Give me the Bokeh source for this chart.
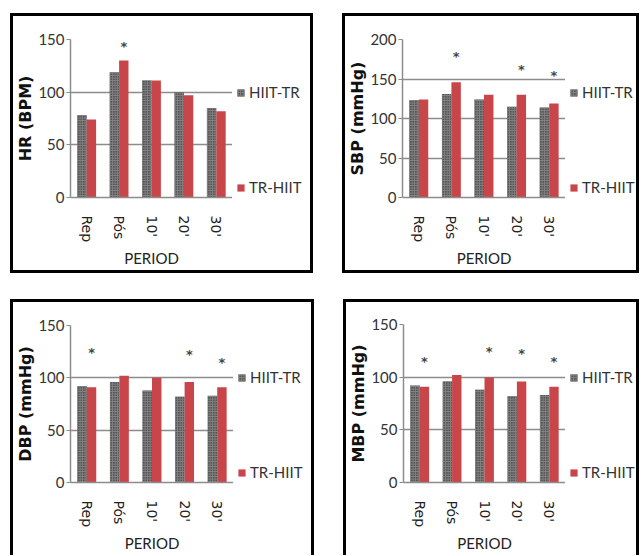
from bokeh.plotting import figure
from bokeh.models import (ColumnDataSource, FactorRange, Range1d, FixedTicker,
                          Legend, LegendItem, Spacer)
from bokeh.layouts import row, column
from bokeh.transform import dodge
from bokeh.core.properties import value
from bokeh.embed import file_html
from bokeh.resources import INLINE

# ---------------- data ----------------
periods = ["Rep", "Pós", "10'", "20'", "30'"]
series_names = ["HIIT-TR", "TR-HIIT"]

hr_hiit_tr = [78, 119, 111, 100, 85]
hr_tr_hiit = [74, 130, 111, 97, 82]
hr_star_periods = ["Pós"]
hr_star_y = [143]
hr_ticks = [0, 50, 100, 150]

sbp_hiit_tr = [123, 131, 124, 115, 114]
sbp_tr_hiit = [124, 146, 130, 130, 119]
sbp_star_periods = ["Pós", "20'", "30'"]
sbp_star_y = [178, 162, 155]
sbp_ticks = [0, 50, 100, 150, 200]

dbp_hiit_tr = [92, 96, 88, 82, 83]
dbp_tr_hiit = [91, 102, 100, 96, 91]
dbp_star_periods = ["Rep", "20'", "30'"]
dbp_star_y = [124, 122, 115]
dbp_ticks = [0, 50, 100, 150]

mbp_hiit_tr = [92, 96, 88, 82, 83]
mbp_tr_hiit = [91, 102, 100, 96, 91]
mbp_star_periods = ["Rep", "10'", "20'", "30'"]
mbp_star_y = [115, 124, 122, 115]
mbp_ticks = [0, 50, 100, 150]

# ---------------- styles ----------------
GRAY = "#555555"
RED = "#c8464a"
GRID = "#8c8c8c"
SANS = "Lato"

BAR_W = 0.29
OFF = 0.145


def add_bars(p, src):
    r1 = p.vbar(x=dodge("period", -OFF, range=p.x_range), top="hiit",
                width=BAR_W, source=src, fill_color=GRAY, line_color=None,
                hatch_pattern="cross", hatch_color="#858585",
                hatch_scale=2.5, hatch_weight=1)
    r2 = p.vbar(x=dodge("period", OFF, range=p.x_range), top="tr",
                width=BAR_W, source=src, fill_color=RED, line_color=None)
    return r1, r2


def make_panel(ylabel, ticks, hiit, tr, star_p, star_y, fw, fh,
               bl, bt, bb, legend_w, full_border=True):
    src = ColumnDataSource(dict(period=periods, hiit=hiit, tr=tr))

    # ---- chart ----
    p = figure(x_range=FactorRange(*periods, range_padding=0),
               y_range=Range1d(ticks[0], ticks[-1]),
               frame_width=fw, frame_height=fh,
               min_border_left=bl, min_border_right=0,
               min_border_top=bt, min_border_bottom=bb,
               output_backend="svg", toolbar_location=None,
               background_fill_color="white", border_fill_color="white")
    p.outline_line_color = None
    add_bars(p, src)

    ssrc = ColumnDataSource(dict(period=star_p, y=star_y,
                                 t=["*"] * len(star_p)))
    p.text(x=dodge("period", OFF, range=p.x_range), y="y", text="t",
           source=ssrc, text_align="center", text_baseline="middle",
           text_font=value("DejaVu Sans"), text_font_size="13px",
           text_font_style="bold", text_color="#444444")

    p.xgrid.grid_line_color = None
    p.ygrid.grid_line_color = GRID
    p.ygrid.grid_line_width = 1.5
    p.yaxis.ticker = FixedTicker(ticks=ticks)
    p.yaxis.axis_line_color = GRID
    p.yaxis.axis_line_width = 1.5
    p.yaxis.major_tick_line_color = GRID
    p.yaxis.major_tick_out = 4
    p.yaxis.major_tick_in = 0
    p.yaxis.minor_tick_line_color = None
    p.yaxis.major_label_standoff = 2
    p.yaxis.major_label_text_font = SANS
    p.yaxis.major_label_text_font_size = "15px"
    p.yaxis.major_label_text_color = "#333333"
    p.yaxis.axis_label = ylabel
    p.yaxis.axis_label_text_font = "DejaVu Sans"
    p.yaxis.axis_label_text_font_style = "bold"
    p.yaxis.axis_label_text_font_size = "16px"
    p.yaxis.axis_label_text_color = "#111111"
    p.yaxis.axis_label_standoff = 0

    p.xaxis.axis_line_color = GRID
    p.xaxis.axis_line_width = 1.5
    p.xaxis.major_tick_line_color = None
    p.xaxis.minor_tick_line_color = None
    p.xaxis.major_label_orientation = "vertical"
    p.xaxis.major_label_standoff = 12
    p.xaxis.major_label_text_font = "DejaVu Sans"
    p.xaxis.major_label_text_font_size = "14px"
    p.xaxis.major_label_text_color = "#222222"
    p.xaxis.axis_label = "PERIOD"
    p.xaxis.axis_label_text_font = SANS
    p.xaxis.axis_label_text_font_style = "normal"
    p.xaxis.axis_label_text_font_size = "15px"
    p.xaxis.axis_label_text_color = "#222222"
    p.xaxis.axis_label_standoff = 4

    # ---- legend strip: same frame geometry as the chart ----
    lg = figure(x_range=FactorRange(*periods, range_padding=0),
                y_range=Range1d(ticks[0], ticks[-1]),
                frame_width=legend_w, frame_height=fh,
                min_border_left=0, min_border_right=0,
                min_border_top=bt, min_border_bottom=bb,
                x_axis_location=None, y_axis_location=None,
                output_backend="svg", toolbar_location=None,
                background_fill_color="white", border_fill_color="white")
    lg.outline_line_color = None
    for g in lg.grid:
        g.visible = False
    l1, l2 = add_bars(lg, src)
    l1.visible = False
    l2.visible = False
    item_h = 20
    legend = Legend(items=[LegendItem(label=series_names[0], renderers=[l1]),
                           LegendItem(label=series_names[1], renderers=[l2])],
                    location=(4, 0), orientation="vertical",
                    spacing=95 - item_h, padding=0, margin=0,
                    glyph_width=9, glyph_height=9, label_height=item_h,
                    label_standoff=4,
                    label_text_font=SANS, label_text_font_size="15px",
                    label_text_color="#333333",
                    inactive_fill_alpha=0,
                    border_line_alpha=0, background_fill_alpha=0)
    lg.add_layout(legend)

    if full_border:
        st = {"border": "3px solid black"}
    else:
        st = {"border-top": "3px solid black",
              "border-left": "3px solid black",
              "border-right": "3px solid black"}
    return row(p, lg, styles=st)


p1 = make_panel("HR (BPM)", hr_ticks, hr_hiit_tr, hr_tr_hiit,
                hr_star_periods, hr_star_y, 162, 158, 55, 23, 70, 78)
p2 = make_panel("SBP (mmHg)", sbp_ticks, sbp_hiit_tr, sbp_tr_hiit,
                sbp_star_periods, sbp_star_y, 163, 158, 54, 23, 70, 71)
p3 = make_panel("DBP (mmHg)", dbp_ticks, dbp_hiit_tr, dbp_tr_hiit,
                dbp_star_periods, dbp_star_y, 163, 157, 55, 23, 64, 78,
                full_border=False)
p4 = make_panel("MBP (mmHg)", mbp_ticks, mbp_hiit_tr, mbp_tr_hiit,
                mbp_star_periods, mbp_star_y, 162, 158, 56, 22, 64, 71,
                full_border=False)

layout = column(
    Spacer(height=13, width=10),
    row(Spacer(width=10, height=10), p1, Spacer(width=29, height=10), p2),
    Spacer(height=26, width=10),
    row(Spacer(width=10, height=10), p3, Spacer(width=29, height=10), p4),
)

open("out.html", "w").write(file_html(layout, INLINE))
